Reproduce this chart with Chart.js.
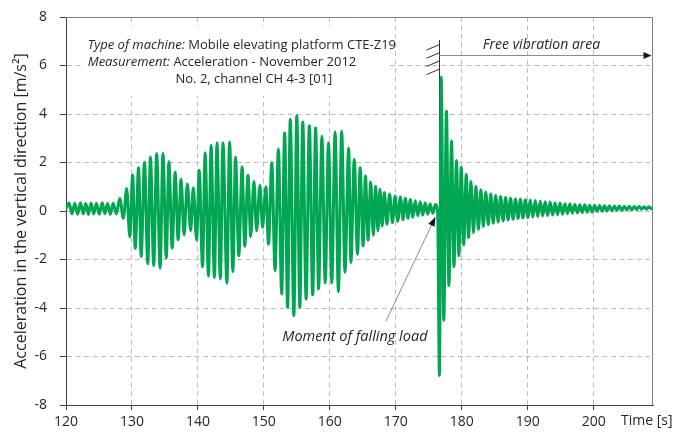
<!DOCTYPE html>
<html>
<head>
<meta charset="utf-8">
<script src="https://cdn.jsdelivr.net/npm/chart.js@4.4.0/dist/chart.umd.min.js"></script>
<style>
  html, body { margin: 0; padding: 0; background: #fff; }
  canvas { display: block; }
</style>
</head>
<body>
<canvas id="accel" width="691" height="432"></canvas>
<script>
// turning points of the recorded signal: time [s] and acceleration [m/s^2]
const timeS = [
  120.00, 120.48, 120.90, 121.33, 121.76, 122.20, 122.60, 123.00, 123.40, 123.80,
  124.20, 124.60, 125.05, 125.50, 125.90, 126.30, 126.72, 127.15, 127.65, 128.15,
  128.70, 129.20, 129.67, 130.10, 130.50, 131.00, 131.40, 131.90, 132.40, 132.80,
  133.30, 133.75, 134.27, 134.70, 135.20, 135.60, 136.10, 136.55, 137.00, 137.45,
  137.90, 138.40, 138.90, 139.30, 139.80, 140.20, 140.70, 141.10, 141.60, 142.00,
  142.50, 142.90, 143.40, 143.80, 144.40, 144.80, 145.30, 145.70, 146.20, 146.70,
  147.10, 147.60, 148.00, 148.50, 148.90, 149.40, 149.80, 150.30, 150.70, 151.20,
  151.70, 152.20, 152.70, 153.15, 153.60, 154.00, 154.55, 155.00, 155.45, 155.90,
  156.40, 156.90, 157.40, 157.85, 158.30, 158.80, 159.30, 159.80, 160.30, 160.80,
  161.30, 161.80, 162.30, 162.85, 163.20, 163.70, 164.20, 164.60, 165.05, 165.40,
  165.80, 166.20, 166.60, 166.95, 167.30, 167.60, 167.93, 168.26, 168.66, 169.06,
  169.50, 169.90, 170.30, 170.70, 171.10, 171.45, 171.85, 172.20, 172.60, 172.95,
  173.35, 173.70, 174.10, 174.45, 174.85, 175.20, 175.60, 176.00, 176.35, 176.62,
  176.88, 177.28, 177.68, 178.06, 178.45, 178.82, 179.20, 179.57, 179.92, 180.30,
  180.68, 181.03, 181.40, 181.78, 182.15, 182.53, 182.90, 183.28, 183.65, 184.03,
  184.40, 184.78, 185.15, 185.53, 185.90, 186.28, 186.65, 187.03, 187.40, 187.78,
  188.15, 188.53, 188.90, 189.28, 189.65, 190.03, 190.40, 190.78, 191.15, 191.53,
  191.90, 192.28, 192.65, 193.03, 193.40, 193.78, 194.15, 194.53, 194.90, 195.28,
  195.65, 196.03, 196.40, 196.78, 197.15, 197.53, 197.90, 198.28, 198.65, 199.03,
  199.40, 199.78, 200.15, 200.53, 200.90, 201.28, 201.65, 202.03, 202.40, 202.78,
  203.15, 203.53, 203.90, 204.28, 204.65, 205.03, 205.40, 205.78, 206.15, 206.53,
  206.90, 207.28, 207.65, 208.03, 208.40, 208.78, 209.00
];
const accelMs2 = [
   0.10,  0.33, -0.12,  0.32, -0.13,  0.34, -0.12,  0.31, -0.14,  0.33,
  -0.12,  0.32, -0.13,  0.34, -0.11,  0.31, -0.14,  0.32, -0.12,  0.52,
  -0.30,  0.93, -1.06,  1.48, -1.54,  1.78, -1.88,  2.01, -2.18,  2.23,
  -2.25,  2.37, -2.36,  2.37, -1.94,  2.03, -1.53,  1.60, -1.19,  1.31,
  -0.99,  1.11, -0.81,  0.96, -1.20,  1.68, -2.30,  2.40, -2.68,  2.71,
  -2.75,  2.81, -2.80,  2.81, -2.98,  2.85, -2.50,  2.22, -1.85,  1.81,
  -1.45,  1.47, -1.05,  1.23, -0.82,  1.06, -0.68,  1.00, -1.37,  1.99,
  -2.46,  2.56, -3.42,  3.22, -3.97,  3.77, -4.31,  3.93, -3.97,  3.67,
  -3.63,  3.52, -3.46,  3.42, -3.22,  3.08, -2.97,  2.81, -2.97,  3.26,
  -3.33,  3.29, -2.53,  2.60, -2.12,  2.12, -1.78,  1.78, -1.44,  1.44,
  -1.20,  1.20, -1.00,  1.02, -0.82,  0.90, -0.62,  0.76, -0.55,  0.70,
  -0.48,  0.62, -0.42,  0.58, -0.36,  0.53, -0.30,  0.47, -0.26,  0.42,
  -0.20,  0.38, -0.17,  0.34, -0.13,  0.30, -0.10,  0.27, -0.08, -6.78,
   5.52, -4.50,  4.11, -3.08,  2.90, -2.30,  2.08, -1.85,  1.80, -1.40,
   1.50, -1.10,  1.22, -0.90,  1.02, -0.76,  0.88, -0.64,  0.78, -0.57,
   0.70, -0.50,  0.64, -0.45,  0.60, -0.41,  0.56, -0.37,  0.53, -0.34,
   0.50, -0.31,  0.48, -0.29,  0.46, -0.27,  0.44, -0.25,  0.43, -0.23,
   0.40, -0.20,  0.38, -0.19,  0.37, -0.17,  0.34, -0.15,  0.33, -0.13,
   0.30, -0.11,  0.29, -0.09,  0.27, -0.08,  0.26, -0.06,  0.26, -0.05,
   0.24, -0.04,  0.23, -0.02,  0.23, -0.01,  0.22,  0.00,  0.22,  0.01,
   0.21,  0.02,  0.21,  0.03,  0.20,  0.04,  0.20,  0.05,  0.19,  0.06,
   0.19,  0.07,  0.18,  0.08,  0.18,  0.09,  0.14
];

const xTicks = [120, 130, 140, 150, 160, 170, 180, 190, 200];
const yTicks = [-8, -6, -4, -2, 0, 2, 4, 6, 8];
const fallTime = 176.5;

const green = '#00a651';
const textColor = '#262626';
const font = '"Open Sans", "DejaVu Sans", sans-serif';

function arrowHead(ctx, x0, y0, x1, y1, len, half) {
  const ang = Math.atan2(y1 - y0, x1 - x0);
  ctx.beginPath();
  ctx.moveTo(x1, y1);
  ctx.lineTo(x1 - len * Math.cos(ang) + half * Math.sin(ang), y1 - len * Math.sin(ang) - half * Math.cos(ang));
  ctx.lineTo(x1 - len * Math.cos(ang) - half * Math.sin(ang), y1 - len * Math.sin(ang) + half * Math.cos(ang));
  ctx.closePath();
  ctx.fill();
}

const notes = {
  id: 'notes',
  beforeDatasetsDraw(chart) {
    const {ctx, scales: {x, y}} = chart;
    ctx.save();
    // panel behind the description
    ctx.fillStyle = '#ffffff';
    const bx0 = x.getPixelForValue(122.5), by0 = y.getPixelForValue(7.6);
    const bx1 = x.getPixelForValue(168.9), by1 = y.getPixelForValue(4.75);
    ctx.fillRect(bx0, by0, bx1 - bx0, by1 - by0);

    // wall line marking the moment of the load drop
    const fx = Math.round(x.getPixelForValue(fallTime)) + 0.5;
    const topY = y.getPixelForValue(7.05);
    ctx.strokeStyle = '#303030';
    ctx.lineWidth = 1;
    ctx.beginPath();
    ctx.moveTo(fx, topY);
    ctx.lineTo(fx, y.getPixelForValue(0));
    ctx.stroke();
    ctx.beginPath();
    for (let i = 0; i < 4; i++) {
      const yy = topY + 10 + i * 8.2;
      ctx.moveTo(fx - 13, yy);
      ctx.lineTo(fx, yy - 5.5);
    }
    ctx.stroke();
    ctx.restore();
  },
  afterDatasetsDraw(chart) {
    const {ctx, chartArea: a, scales: {x, y}} = chart;
    ctx.save();

    // top and right frame
    ctx.strokeStyle = '#808080';
    ctx.lineWidth = 1;
    ctx.beginPath();
    ctx.moveTo(a.left, a.top + 0.5);
    ctx.lineTo(a.right - 0.5, a.top + 0.5);
    ctx.lineTo(a.right - 0.5, a.bottom);
    ctx.stroke();

    // description
    ctx.fillStyle = textColor;
    ctx.textBaseline = 'middle';
    ctx.textAlign = 'left';
    const line = (xv, yv, italic, plain) => {
      let px = x.getPixelForValue(xv);
      const py = y.getPixelForValue(yv);
      if (italic) {
        ctx.font = 'italic 13px ' + font;
        ctx.fillText(italic, px, py);
        px += ctx.measureText(italic + ' ').width;
      }
      ctx.font = '13px ' + font;
      ctx.fillText(plain, px, py);
    };
    line(123.3, 6.85, 'Type of machine:', 'Mobile elevating platform CTE-Z19');
    line(123.3, 6.12, 'Measurement:', 'Acceleration - November 2012');
    line(136.6, 5.42, '', 'No. 2, channel CH 4-3 [01]');

    // free vibration arrow
    const fx = Math.round(x.getPixelForValue(fallTime)) + 0.5;
    const ay = Math.round(y.getPixelForValue(6.45)) + 0.5;
    ctx.strokeStyle = '#8c8c8c';
    ctx.beginPath();
    ctx.moveTo(fx, ay);
    ctx.lineTo(a.right - 6, ay);
    ctx.stroke();
    ctx.fillStyle = '#1a1a1a';
    arrowHead(ctx, fx, ay, a.right - 1.5, ay, 8, 3.5);
    ctx.fillStyle = textColor;
    ctx.font = 'italic 14px ' + font;
    ctx.textAlign = 'center';
    ctx.fillText('Free vibration area', x.getPixelForValue(192.1), y.getPixelForValue(6.85));

    // pointer to the load drop
    const sx = x.getPixelForValue(168.5), sy = y.getPixelForValue(-4.55);
    const tx = x.getPixelForValue(176.0), ty = y.getPixelForValue(-0.25);
    ctx.strokeStyle = '#8c8c8c';
    ctx.beginPath();
    ctx.moveTo(sx, sy);
    ctx.lineTo(tx, ty);
    ctx.stroke();
    ctx.fillStyle = '#1a1a1a';
    arrowHead(ctx, sx, sy, tx, ty, 9, 3.5);
    ctx.fillStyle = textColor;
    ctx.font = 'italic 14.5px ' + font;
    ctx.fillText('Moment of falling load', x.getPixelForValue(163.8), y.getPixelForValue(-5.2));

    // time label next to the last tick
    ctx.font = '14px ' + font;
    ctx.textAlign = 'left';
    ctx.fillText('Time [s]', 621, 421);
    ctx.restore();
  }
};

new Chart(document.getElementById('accel'), {
  type: 'line',
  data: {
    datasets: [{
      data: timeS.map((t, i) => ({x: t, y: accelMs2[i]})),
      borderColor: green,
      borderWidth: 3,
      pointRadius: 0,
      fill: false,
      cubicInterpolationMode: 'monotone'
    }]
  },
  options: {
    responsive: false,
    animation: false,
    devicePixelRatio: 1,
    layout: {padding: {left: 0, top: 17, right: 38, bottom: 0}},
    plugins: {legend: {display: false}, tooltip: {enabled: false}},
    scales: {
      x: {
        type: 'linear',
        min: 120,
        max: 209,
        afterBuildTicks: s => { s.ticks = xTicks.map(v => ({value: v})); },
        afterFit: s => { s.height = 27; s.paddingLeft = 0; s.paddingRight = 0; },
        ticks: {color: textColor, font: {family: font, size: 14}, padding: 4, maxRotation: 0},
        grid: {
          color: c => (c.tick.value === 120 ? 'rgba(0,0,0,0)' : '#bdbdbd'),
          tickColor: '#404040',
          tickLength: 5
        },
        border: {display: true, color: '#404040', dash: [5, 3.5]}
      },
      y: {
        min: -8,
        max: 8,
        afterBuildTicks: s => { s.ticks = yTicks.map(v => ({value: v})); },
        afterFit: s => { s.width = 66; s.paddingTop = 0; s.paddingBottom = 0; },
        ticks: {color: textColor, font: {family: font, size: 14}, padding: 13},
        grid: {
          color: c => (Math.abs(c.tick.value) === 8 ? 'rgba(0,0,0,0)' : '#bdbdbd'),
          tickColor: '#404040',
          tickLength: 6
        },
        border: {display: true, color: '#404040', dash: [5, 3.5]},
        title: {
          display: true,
          text: 'Acceleration in the vertical direction [m/s²]',
          color: textColor,
          font: {family: font, size: 16},
          padding: {top: 12, bottom: 0}
        }
      }
    }
  },
  plugins: [notes]
});
</script>
</body>
</html>
